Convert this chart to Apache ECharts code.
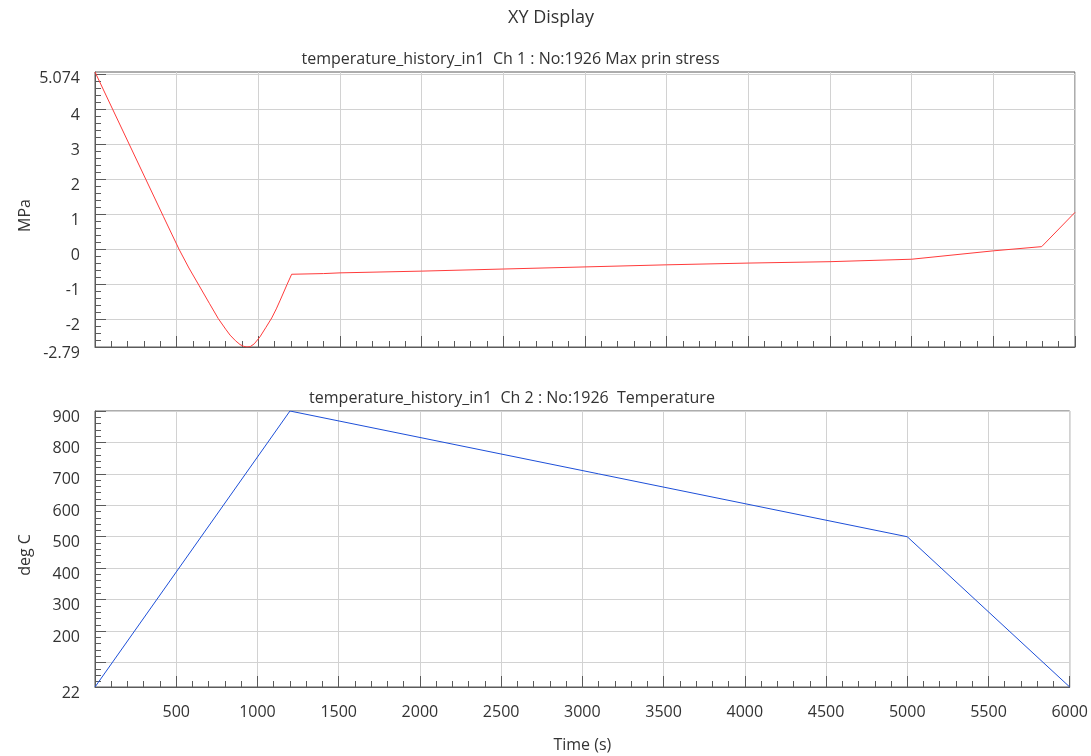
<!DOCTYPE html>
<html>
<head>
<meta charset="utf-8">
<title>XY Display</title>
<script src="https://cdn.jsdelivr.net/npm/echarts@6/dist/echarts.min.js"></script>
<style>
  html, body { margin: 0; padding: 0; background: #ffffff; }
  #chart { width: 1091px; height: 756px; }
</style>
</head>
<body>
<div id="chart"></div>
<script>
// Channel 1: max principal stress (MPa) over time (s)
const stressTime = [0, 418, 470, 515, 575, 637, 700, 755, 800, 827, 860, 888, 910, 930, 950, 975, 1010, 1045, 1082, 1110, 1134, 1176, 1204, 1400, 1500, 2000, 2500, 3000, 3500, 4000, 4500, 5000, 5500, 5796, 6000];
const stressValues = [5.074, 0.95, 0.44, 0.0, -0.53, -1.03, -1.54, -1.98, -2.28, -2.45, -2.61, -2.72, -2.77, -2.79, -2.78, -2.70, -2.50, -2.24, -1.96, -1.70, -1.45, -1.0, -0.71, -0.69, -0.67, -0.62, -0.56, -0.50, -0.44, -0.39, -0.35, -0.28, -0.04, 0.08, 1.06];

// Channel 2: temperature (deg C) over time (s)
const tempTime = [0, 1200, 5000, 6000];
const tempValues = [22, 900, 500, 22];

// Axis ranges and tick labels
const timeRange = [0, 6000];
const stressRange = [-2.79, 5.074];
const stressMajorTicks = [-2, -1, 0, 1, 2, 3, 4, 5];
const stressLabels = [-2.79, -2, -1, 0, 1, 2, 3, 4, 5.074];
const tempRange = [22, 900];
const tempMajorTicks = [100, 200, 300, 400, 500, 600, 700, 800, 900];
const tempLabels = [22, 200, 300, 400, 500, 600, 700, 800, 900];

// minor ticks between the major ones
function minorTicks(lo, hi, step, majorStep) {
  const out = [];
  const start = Math.ceil(lo / step) * step;
  for (let v = start; v <= hi + 1e-9; v += step) {
    const r = Math.round(v * 1000) / 1000;
    if (Math.abs(r / majorStep - Math.round(r / majorStep)) > 1e-6) out.push(r);
  }
  return out;
}
const stressMinorTicks = minorTicks(stressRange[0], stressRange[1], 0.2, 1);
const tempMinorTicks = minorTicks(tempRange[0], tempRange[1], 20, 100);

const FONT = 'Open Sans';
const TEXT = '#333333';
const FRAME = '#5a5a5a';
const GRIDLINE = '#d2d2d2';

function pairs(xs, ys) { return xs.map((x, i) => [x, ys[i]]); }

function timeAxis(gridIndex, showLabels) {
  return {
    type: 'value', gridIndex, min: timeRange[0], max: timeRange[1], interval: 500,
    axisLine: { show: true, onZero: false, lineStyle: { color: FRAME, width: 1 } },
    axisTick: { show: true, inside: true, length: 11, lineStyle: { color: FRAME } },
    minorTick: { show: true, splitNumber: 5, length: 6, lineStyle: { color: FRAME } },
    splitLine: { show: true, lineStyle: { color: GRIDLINE, width: 1 } },
    axisLabel: {
      show: showLabels, showMinLabel: false, margin: 17,
      formatter: v => String(v),
      fontFamily: FONT, fontSize: 16, color: TEXT
    },
    name: showLabels ? 'Time (s)' : '',
    nameLocation: 'middle', nameGap: 50, nameMoveOverlap: false,
    nameTextStyle: { fontFamily: FONT, fontSize: 16, color: TEXT }
  };
}

function valueAxes(gridIndex, range, majors, labels, minors, name) {
  return [
    {
      type: 'value', gridIndex, position: 'left', offset: 0,
      min: range[0], max: range[1],
      axisLine: { show: true, onZero: false, lineStyle: { color: FRAME, width: 1 } },
      axisTick: { show: true, inside: true, length: 11, customValues: majors, lineStyle: { color: FRAME } },
      splitLine: { show: true, lineStyle: { color: GRIDLINE, width: 1 } },
      axisLabel: {
        show: true, customValues: labels, margin: 15,
        verticalAlign: 'top', lineHeight: 12,
        formatter: v => String(v),
        fontFamily: FONT, fontSize: 16, color: TEXT
      },
      name, nameLocation: 'middle', nameGap: 62, nameRotate: 90, nameMoveOverlap: false,
      nameTextStyle: { fontFamily: FONT, fontSize: 16, color: TEXT, padding: [0, 12, 0, 0] }
    },
    {
      type: 'value', gridIndex, position: 'left', offset: 0,
      min: range[0], max: range[1],
      axisLine: { show: false },
      axisTick: { show: true, inside: true, length: 6, customValues: minors, lineStyle: { color: FRAME } },
      splitLine: { show: false },
      axisLabel: { show: false }
    }
  ];
}

const chart = echarts.init(document.getElementById('chart'), null, { renderer: 'canvas' });

chart.setOption({
  animation: false,
  backgroundColor: '#ffffff',
  grid: [
    { left: 95, top: 72, width: 980, height: 275, show: true, borderColor: FRAME, borderWidth: 1, backgroundColor: '#ffffff' },
    { left: 95, top: 411, width: 980, height: 276, show: true, borderColor: FRAME, borderWidth: 1, backgroundColor: '#ffffff' }
  ],
  xAxis: [timeAxis(0, false), timeAxis(1, true)],
  yAxis: [
    ...valueAxes(0, stressRange, stressMajorTicks, stressLabels, stressMinorTicks, 'MPa'),
    ...valueAxes(1, tempRange, tempMajorTicks, tempLabels, tempMinorTicks, 'deg C')
  ],
  series: [
    {
      name: 'Max prin stress', type: 'line', xAxisIndex: 0, yAxisIndex: 0,
      data: pairs(stressTime, stressValues),
      showSymbol: false, clip: true,
      lineStyle: { color: '#ff3b3b', width: 1 }
    },
    {
      name: 'Temperature', type: 'line', xAxisIndex: 1, yAxisIndex: 2,
      data: pairs(tempTime, tempValues),
      showSymbol: false, clip: true,
      lineStyle: { color: '#1d4fd8', width: 1 }
    }
  ],
  graphic: [
    { type: 'text', x: 551, y: 18, style: { text: 'XY Display', fontFamily: FONT, fontSize: 18, fill: TEXT, align: 'center', verticalAlign: 'middle' } },
    { type: 'text', x: 510.5, y: 59, style: { text: 'temperature_history_in1  Ch 1 : No:1926 Max prin stress', fontFamily: FONT, fontSize: 16, fill: TEXT, align: 'center', verticalAlign: 'middle' } },
    { type: 'text', x: 512, y: 398, style: { text: 'temperature_history_in1  Ch 2 : No:1926  Temperature', fontFamily: FONT, fontSize: 16, fill: TEXT, align: 'center', verticalAlign: 'middle' } }
  ]
});
</script>
</body>
</html>
